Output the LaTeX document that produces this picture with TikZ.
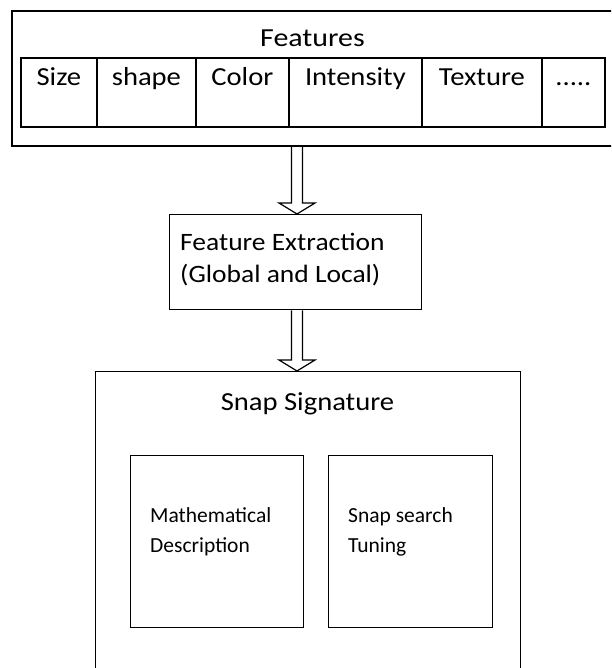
\documentclass[tikz,border=0pt]{standalone}
\usepackage{fontspec}
\setmainfont{Carlito}
\usepackage{graphicx}
\usetikzlibrary{calc}

% hollow block arrow pointing down, from #1 (top of shaft) to #2 (tip)
\newcommand\hollowdown[2]{%
  \draw[arrowline]
    ($(#1)+(-5.5,0)$) -- ($(#2)+(-5.5,-11)$) -- ($(#2)+(-18,-11)$) -- (#2)
    -- ($(#2)+(18,-11)$) -- ($(#2)+(5.5,-11)$) -- ($(#1)+(5.5,0)$);}
\newcommand\wide[2][1.1]{\scalebox{#1}[1]{#2}}

\begin{document}
\begin{tikzpicture}[x=1pt,y=-1pt,
  frame/.style={draw, line width=2pt, anchor=north west, inner sep=0pt},
  cell/.style={draw, line width=1.8pt, anchor=north west, inner sep=0pt},
  box/.style={draw, line width=1.4pt, anchor=north west, inner sep=0pt},
  arrowline/.style={draw, line width=1.2pt, line join=miter},
  lbl/.style={inner sep=0pt, anchor=base},
  lblw/.style={inner sep=0pt, anchor=base west},
  bigtext/.style={font=\fontsize{26}{30}\selectfont},
  midtext/.style={font=\fontsize{25}{30}\selectfont},
  smalltext/.style={font=\fontsize{21.5}{26}\selectfont}]
\useasboundingbox (0,0) rectangle (611,668);
\clip (0,0) rectangle (611,668);

% feature table
\node[frame, minimum width=640pt, minimum height=135pt] (feat) at (11,10) {};
\node[lbl, bigtext] (feattitle) at (312.5,47) {\wide[1.15]{Features}};
\node[cell, minimum width=76pt,  minimum height=69pt] (c1) at (20,57) {};
\node[cell, minimum width=99pt,  minimum height=69pt] (c2) at (96,57) {};
\node[cell, minimum width=93pt,  minimum height=69pt] (c3) at (195,57) {};
\node[cell, minimum width=133pt, minimum height=69pt] (c4) at (288,57) {};
\node[cell, minimum width=120pt, minimum height=69pt] (c5) at (421,57) {};
\node[cell, minimum width=63pt,  minimum height=69pt] (c6) at (541,57) {};
\node[lbl, bigtext] (t1) at (c1.center |- 0,86) {\wide{Size}};
\node[lbl, bigtext] (t2) at (c2.center |- 0,86) {\wide{shape}};
\node[lbl, bigtext] (t3) at (c3.center |- 0,86) {\wide{Color}};
\node[lbl, bigtext] (t4) at (c4.center |- 0,86) {\wide{Intensity}};
\node[lbl, bigtext] (t5) at (c5.center |- 0,86) {\wide{Texture}};
\node[lbl, bigtext] (t6) at (c6.center |- 0,86) {\wide{.....}};

% feature extraction
\node[box, minimum width=252pt, minimum height=95pt] (fx) at (169,214) {};
\node[lblw, midtext] (fx1) at (180,250) {\wide{Feature Extraction}};
\node[lblw, midtext] (fx2) at (180,282) {\wide{(Global and Local)}};

% snap signature
\node[box, minimum width=425pt, minimum height=340pt] (snap) at (95,371) {};
\node[lbl, bigtext] (snaptitle) at (307.5,410) {\wide{Snap Signature}};
\node[box, minimum width=173pt, minimum height=172pt] (math) at (130,455) {};
\node[box, minimum width=164pt, minimum height=172pt] (tune) at (328,455) {};
\node[lblw, smalltext] (m1) at (150,522.5) {Mathematical};
\node[lblw, smalltext] (m2) at (150,552) {Description};
\node[lblw, smalltext] (s1) at (348,522.5) {Snap search};
\node[lblw, smalltext] (s2) at (348,552) {Tuning};

% connectors
\coordinate (ax) at (297,0);
\coordinate (a1s) at (feat.south -| ax);
\coordinate (a1t) at (fx.north -| ax);
\coordinate (a2s) at (fx.south -| ax);
\coordinate (a2t) at (snap.north -| ax);
\hollowdown{a1s}{a1t}
\hollowdown{a2s}{a2t}
\end{tikzpicture}
\end{document}
